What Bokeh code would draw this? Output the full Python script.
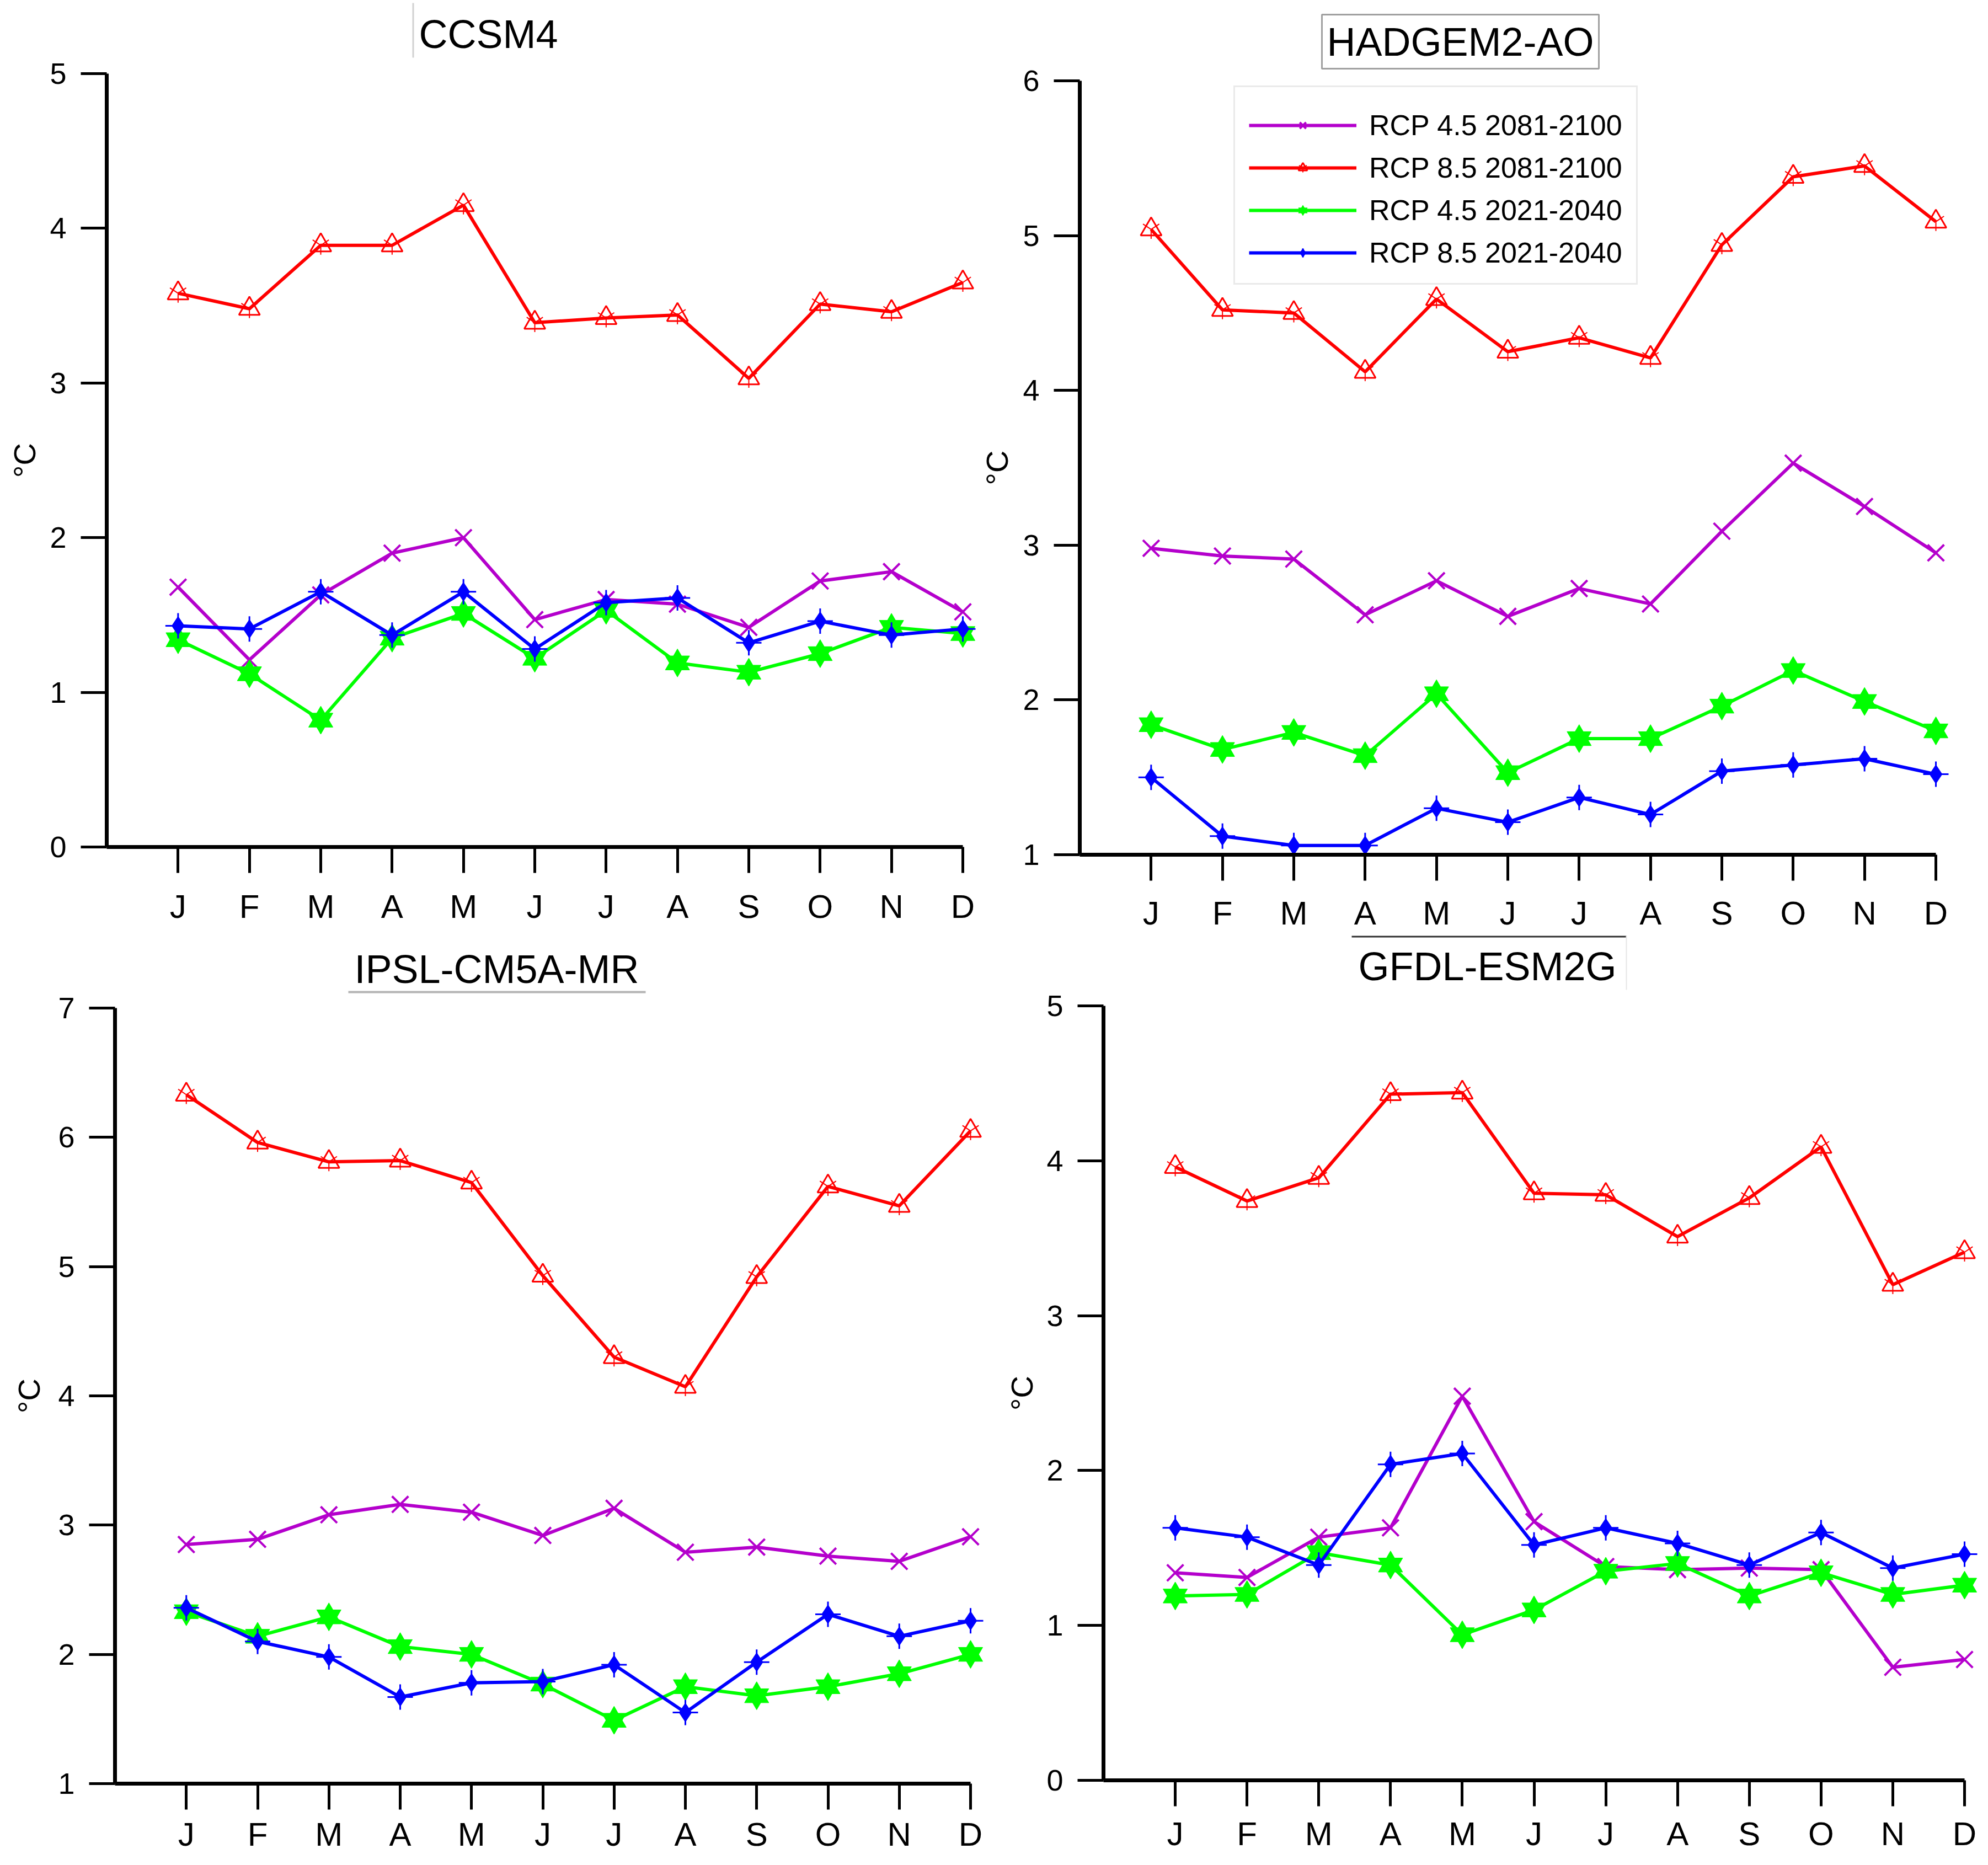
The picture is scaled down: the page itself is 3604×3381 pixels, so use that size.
from bokeh.plotting import figure
from bokeh.models import FixedTicker, Legend, LegendItem, Range1d, Label, BoxAnnotation
from bokeh.layouts import column, row
from bokeh.embed import file_html
from bokeh.resources import INLINE

months = ["J", "F", "M", "A", "M", "J", "J", "A", "S", "O", "N", "D"]
month_pos = list(range(1, 13))
series_names = ["RCP 4.5 2081-2100", "RCP 8.5 2081-2100",
                "RCP 4.5 2021-2040", "RCP 8.5 2021-2040"]

# CCSM4
ccsm4_rcp45_late = [1.68, 1.21, 1.63, 1.90, 2.00, 1.47, 1.60, 1.57, 1.42, 1.72, 1.78, 1.52]
ccsm4_rcp85_late = [3.58, 3.48, 3.89, 3.89, 4.15, 3.39, 3.42, 3.44, 3.03, 3.51, 3.46, 3.65]
ccsm4_rcp45_early = [1.34, 1.12, 0.82, 1.35, 1.51, 1.22, 1.53, 1.19, 1.13, 1.25, 1.42, 1.38]
ccsm4_rcp85_early = [1.43, 1.41, 1.65, 1.37, 1.65, 1.28, 1.58, 1.61, 1.32, 1.46, 1.37, 1.41]

# HADGEM2-AO
hadgem_rcp45_late = [2.98, 2.93, 2.91, 2.55, 2.77, 2.54, 2.72, 2.62, 3.09, 3.53, 3.25, 2.95]
hadgem_rcp85_late = [5.04, 4.52, 4.50, 4.12, 4.59, 4.25, 4.34, 4.21, 4.94, 5.38, 5.45, 5.09]
hadgem_rcp45_early = [1.84, 1.68, 1.79, 1.64, 2.04, 1.53, 1.75, 1.75, 1.96, 2.19, 1.99, 1.80]
hadgem_rcp85_early = [1.50, 1.12, 1.06, 1.06, 1.30, 1.21, 1.37, 1.26, 1.54, 1.58, 1.62, 1.52]

# IPSL-CM5A-MR
ipsl_rcp45_late = [2.85, 2.89, 3.08, 3.16, 3.10, 2.92, 3.13, 2.79, 2.83, 2.76, 2.72, 2.91]
ipsl_rcp85_late = [6.33, 5.96, 5.81, 5.82, 5.65, 4.93, 4.30, 4.07, 4.92, 5.62, 5.47, 6.05]
ipsl_rcp45_early = [2.33, 2.14, 2.29, 2.06, 2.00, 1.77, 1.49, 1.75, 1.68, 1.75, 1.85, 2.00]
ipsl_rcp85_early = [2.36, 2.10, 1.98, 1.67, 1.78, 1.79, 1.92, 1.55, 1.94, 2.31, 2.14, 2.26]

# GFDL-ESM2G
gfdl_rcp45_late = [1.34, 1.31, 1.57, 1.63, 2.48, 1.67, 1.38, 1.36, 1.37, 1.36, 0.73, 0.78]
gfdl_rcp85_late = [3.96, 3.74, 3.89, 4.43, 4.44, 3.79, 3.78, 3.51, 3.76, 4.09, 3.20, 3.41]
gfdl_rcp45_early = [1.19, 1.20, 1.47, 1.39, 0.94, 1.10, 1.35, 1.40, 1.19, 1.34, 1.20, 1.26]
gfdl_rcp85_early = [1.63, 1.57, 1.39, 2.04, 2.11, 1.52, 1.63, 1.53, 1.39, 1.60, 1.37, 1.46]

PURPLE = "#B400CC"
RED = "#FF0000"
GREEN = "#00FF00"
BLUE = "#0000FF"
FONT = "Liberation Sans"
LW = 6


def draw_series(p, values):
    rs = []
    a = [p.line(month_pos, values[0], line_color=PURPLE, line_width=LW),
         p.scatter(month_pos, values[0], marker="x", size=42, line_color=PURPLE, line_width=4)]
    rs.append(a)
    b = [p.line(month_pos, values[1], line_color=RED, line_width=LW),
         p.scatter(month_pos, values[1], marker="triangle", size=38, line_color=RED,
                   fill_color=None, line_width=3),
         p.scatter(month_pos, values[1], marker="y", size=34, line_color=RED, line_width=2)]
    rs.append(b)
    c = [p.line(month_pos, values[2], line_color=GREEN, line_width=LW),
         p.scatter(month_pos, values[2], marker="triangle", size=44, line_color=GREEN,
                   fill_color=GREEN, line_width=1),
         p.scatter(month_pos, values[2], marker="inverted_triangle", size=44, line_color=GREEN,
                   fill_color=GREEN, line_width=1)]
    rs.append(c)
    d = [p.line(month_pos, values[3], line_color=BLUE, line_width=LW),
         p.scatter(month_pos, values[3], marker="diamond", size=34, line_color=BLUE,
                   fill_color=BLUE, line_width=1),
         p.scatter(month_pos, values[3], marker="cross", size=46, line_color=BLUE, line_width=3)]
    rs.append(d)
    return rs


def make_panel(name, values, ylo, yhi, fig_box, axis_px, title_xy, label_standoff,
               month_standoff, boxed=False, legend_box=None, decorations=()):
    # fig_box: (left, right, top, bottom) of the figure on the page (px)
    # axis_px: (px of x=0, px of x=12, px of y=ylo, px of y=yhi)
    fl, fr, ft, fb = fig_box
    x0p, x12p, ylop, yhip = axis_px
    u = 12.0 / (x12p - x0p)
    v = (yhi - ylo) / float(ylop - yhip)
    xr = Range1d(-(x0p - fl) * u, 12 + (fr - x12p) * u)
    yr = Range1d(ylo - (fb - ylop) * v, yhi + (yhip - ft) * v)

    p = figure(width=fr - fl, height=fb - ft, output_backend="svg", toolbar_location=None,
               x_range=xr, y_range=yr, min_border=0,
               min_border_left=0, min_border_right=0, min_border_top=0, min_border_bottom=0)
    p.outline_line_color = None
    p.xgrid.visible = False
    p.ygrid.visible = False
    p.background_fill_color = "white"
    p.border_fill_color = "white"

    def sx(px):
        return px - fl

    def sy(py):
        return fb - py

    for ax in (p.xaxis[0], p.yaxis[0]):
        ax.axis_line_width = 7
        ax.axis_line_color = "black"
        ax.major_tick_line_width = 5
        ax.major_tick_line_color = "black"
        ax.major_tick_out = 47
        ax.major_tick_in = 0
        ax.minor_tick_line_color = None
        ax.major_label_text_font = FONT
        ax.major_label_text_color = "black"

    p.xaxis.fixed_location = ylo
    p.xaxis.bounds = (0, 12)
    p.xaxis.ticker = FixedTicker(ticks=month_pos)
    p.xaxis.major_label_overrides = {m: months[m - 1] for m in month_pos}
    p.xaxis.major_label_text_font_size = "60px"
    p.xaxis.major_label_standoff = month_standoff

    p.yaxis.fixed_location = 0
    p.yaxis.bounds = (ylo, yhi)
    p.yaxis.ticker = FixedTicker(ticks=list(range(int(ylo), int(yhi) + 1)))
    p.yaxis.major_label_text_font_size = "54px"
    p.yaxis.major_label_standoff = 26
    p.yaxis.axis_label = "°C"
    p.yaxis.axis_label_text_font = FONT
    p.yaxis.axis_label_text_font_size = "56px"
    p.yaxis.axis_label_text_font_style = "normal"
    p.yaxis.axis_label_text_color = "black"
    p.yaxis.axis_label_standoff = label_standoff

    for (l, r, t, b, col) in decorations:
        p.add_layout(BoxAnnotation(left=sx(l), right=sx(r), top=sy(t), bottom=sy(b),
                                   left_units="screen", right_units="screen",
                                   top_units="screen", bottom_units="screen",
                                   fill_color=col, fill_alpha=1.0, line_alpha=0.0))

    tx, ty = title_xy
    lab = Label(x=sx(tx), y=sy(ty), x_units="screen", y_units="screen", text=name,
                text_align="center", text_baseline="alphabetic", text_font=FONT,
                text_font_size="72px", text_color="black")
    if boxed:
        lab.border_line_color = "#a0a0a0"
        lab.border_line_width = 3
        lab.background_fill_color = "white"
        lab.padding = 9
    p.add_layout(lab)

    rs = draw_series(p, values)

    if legend_box is not None:
        lx, lbottom = legend_box
        items = [LegendItem(label=series_names[i], renderers=rs[i]) for i in range(4)]
        lg = Legend(items=items, location=(sx(lx), sy(lbottom)), label_text_font=FONT,
                    label_text_font_size="52px", label_text_color="black",
                    glyph_width=195, glyph_height=40, label_height=60,
                    label_standoff=23, spacing=17, padding=25, margin=0,
                    title=" ", title_text_font_size="12px", title_standoff=0,
                    border_line_color="#d6d6d6", border_line_width=3,
                    background_fill_color="white", background_fill_alpha=1.0)
        p.add_layout(lg)
    return p


p1 = make_panel("CCSM4",
                [ccsm4_rcp45_late, ccsm4_rcp85_late, ccsm4_rcp45_early, ccsm4_rcp85_early],
                0, 5, (8, 1777, 8, 1703), (201, 1753, 1543, 141), (893, 69), 11, 27,
                decorations=[(755, 758, 13, 112, "#d2d2d2")])
p2 = make_panel("HADGEM2-AO",
                [hadgem_rcp45_late, hadgem_rcp85_late, hadgem_rcp45_early, hadgem_rcp85_early],
                1, 6, (1777, 3596, 8, 1703), (1965, 3517, 1557, 154), (2655, 83), 12, 25,
                boxed=True, legend_box=(2244, 524))
p3 = make_panel("IPSL-CM5A-MR",
                [ipsl_rcp45_late, ipsl_rcp85_late, ipsl_rcp45_early, ipsl_rcp85_early],
                1, 7, (8, 1792, 1703, 3373), (216, 1767, 3241, 1835), (908, 1764), 18, 11,
                decorations=[(639, 1178, 1804, 1808, "#b4b4b4")])
p4 = make_panel("GFDL-ESM2G",
                [gfdl_rcp45_late, gfdl_rcp85_late, gfdl_rcp45_early, gfdl_rcp85_early],
                0, 5, (1792, 3596, 1703, 3373), (2008, 3569, 3235, 1831), (2704, 1759), 10, 16,
                decorations=[(2458, 2956, 1704, 1707, "#333333"),
                             (2955, 2957, 1704, 1802, "#e6e6e6")])

layout = column(row(p1, p2), row(p3, p4))
open("out.html", "w").write(file_html(layout, INLINE))
